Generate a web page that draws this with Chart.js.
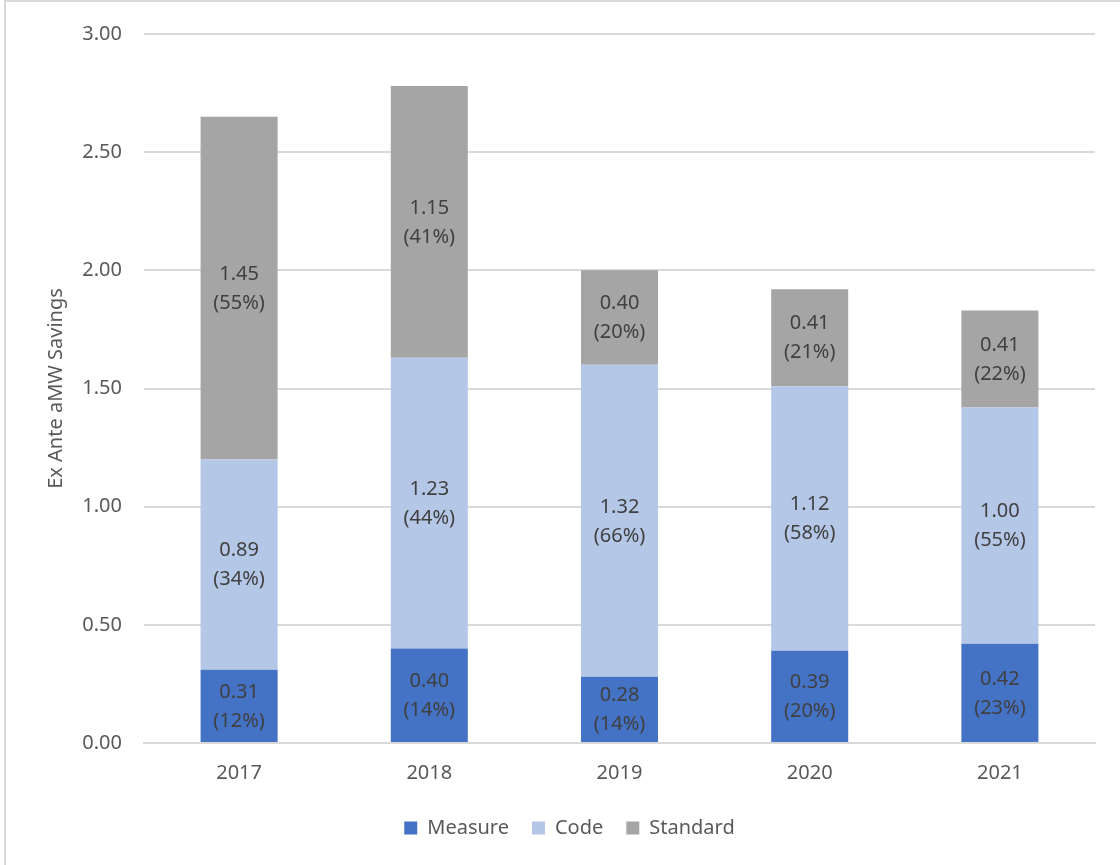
<!DOCTYPE html>
<html>
<head>
<meta charset="utf-8">
<script src="https://cdn.jsdelivr.net/npm/chart.js@4/dist/chart.umd.min.js"></script>
<style>
  html, body { margin: 0; padding: 0; background: #fff; }
  #frame {
    position: absolute; left: 4px; top: 0px; width: 1116px; height: 865px;
    border-left: 2px solid #d9d9d9; border-top: 2px solid #d9d9d9;
    box-sizing: border-box;
  }
  #wrap { position: absolute; left: 0; top: 0; width: 1120px; height: 865px; }
</style>
</head>
<body>
<div id="frame"></div>
<div id="wrap"><canvas id="savings_chart" width="1120" height="865"></canvas></div>
<script>
// data
const years = ["2017", "2018", "2019", "2020", "2021"];
const measure_list = [0.31, 0.40, 0.28, 0.39, 0.42];
const code_list = [0.89, 1.23, 1.32, 1.12, 1.00];
const standard_list = [1.45, 1.15, 0.40, 0.41, 0.41];

const FONT = "'Noto Sans', 'Open Sans', sans-serif";

// totals per year for the percentage labels
const totals = years.map((y, i) => measure_list[i] + code_list[i] + standard_list[i]);

// draws "value\n(pct%)" in the middle of each bar segment
const barLabels = {
	id: "barLabels",
	afterDatasetsDraw(chart) {
		const ctx = chart.ctx;
		ctx.save();
		ctx.font = "20px " + FONT;
		ctx.fillStyle = "#404040";
		ctx.textAlign = "center";
		ctx.textBaseline = "middle";
		chart.data.datasets.forEach((ds, di) => {
			const meta = chart.getDatasetMeta(di);
			meta.data.forEach((bar, i) => {
				const v = ds.data[i];
				const pct = Math.round(v / totals[i] * 100);
				const cy = (bar.y + bar.base) / 2;
				ctx.fillText(v.toFixed(2), bar.x, cy - 14);
				ctx.fillText(`(${pct}%)`, bar.x, cy + 15);
			});
		});
		ctx.restore();
	}
};

const ctx = document.getElementById("savings_chart").getContext("2d");

new Chart(ctx, {
	type: "bar",
	data: {
		labels: years,
		datasets: [
			{ label: "Measure", data: measure_list, backgroundColor: "#4472C4" },
			{ label: "Code", data: code_list, backgroundColor: "#B4C7E7" },
			{ label: "Standard", data: standard_list, backgroundColor: "#A5A5A5" }
		]
	},
	options: {
		responsive: false,
		animation: false,
		maintainAspectRatio: false,
		layout: { padding: { top: 14, right: 25, left: 44, bottom: 17 } },
		datasets: {
			bar: { categoryPercentage: 1.0, barPercentage: 0.405 }
		},
		scales: {
			x: {
				stacked: true,
				grid: { display: false },
				border: { display: true, color: "#d9d9d9", width: 2 },
				ticks: { color: "#595959", font: { family: FONT, size: 20 }, padding: 10 }
			},
			y: {
				stacked: true,
				min: 0,
				max: 3,
				afterFit: (scale) => { scale.width = 100; },
				grid: { color: "#d9d9d9", lineWidth: 2, drawTicks: false },
				border: { display: false },
				ticks: {
					stepSize: 0.5,
					color: "#595959",
					font: { family: FONT, size: 20 },
					padding: 22,
					callback: (v) => Number(v).toFixed(2)
				},
				title: {
					display: true,
					text: "Ex Ante aMW Savings",
					color: "#595959",
					font: { family: FONT, size: 20 },
					padding: 0
				}
			}
		},
		plugins: {
			legend: {
				position: "bottom",
				labels: {
					color: "#595959",
					font: { family: FONT, size: 20 },
					boxWidth: 13,
					boxHeight: 13,
					padding: 23
				}
			},
			tooltip: { enabled: false }
		}
	},
	plugins: [barLabels]
});
</script>
</body>
</html>
